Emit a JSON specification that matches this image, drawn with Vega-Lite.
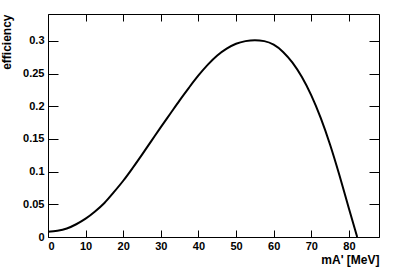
{
  "$schema": "https://vega.github.io/schema/vega-lite/v6.json",
  "width": 331,
  "height": 223,
  "autosize": {"type": "none"},
  "padding": {"left": 48, "top": 14, "right": 20, "bottom": 33},
  "background": "white",
  "config": {
    "font": "Liberation Sans",
    "view": {"stroke": "black", "strokeWidth": 1}
  },
  "data": {"values": [
    {"m": 0, "eff": 0.008},
    {"m": 2.5, "eff": 0.0095},
    {"m": 5, "eff": 0.013},
    {"m": 7.5, "eff": 0.0195},
    {"m": 10, "eff": 0.028},
    {"m": 12.5, "eff": 0.039},
    {"m": 15, "eff": 0.052},
    {"m": 17.5, "eff": 0.0685},
    {"m": 20, "eff": 0.086},
    {"m": 22.5, "eff": 0.1055},
    {"m": 25, "eff": 0.126},
    {"m": 27.5, "eff": 0.147},
    {"m": 30, "eff": 0.168},
    {"m": 32.5, "eff": 0.1885},
    {"m": 35, "eff": 0.209},
    {"m": 37.5, "eff": 0.2285},
    {"m": 40, "eff": 0.247},
    {"m": 42.5, "eff": 0.2635},
    {"m": 45, "eff": 0.2775},
    {"m": 47.5, "eff": 0.288},
    {"m": 50, "eff": 0.2955},
    {"m": 52.5, "eff": 0.2995},
    {"m": 55, "eff": 0.301},
    {"m": 57.5, "eff": 0.2995},
    {"m": 60, "eff": 0.294},
    {"m": 62.5, "eff": 0.283},
    {"m": 65, "eff": 0.2665},
    {"m": 67.5, "eff": 0.2445},
    {"m": 70, "eff": 0.2165},
    {"m": 72.5, "eff": 0.182},
    {"m": 75, "eff": 0.141},
    {"m": 77.5, "eff": 0.094},
    {"m": 80, "eff": 0.0435},
    {"m": 82.2, "eff": 0.0}
  ]},
  "resolve": {"axis": {"x": "independent", "y": "independent"}},
  "layer": [
    {
      "mark": {"type": "line", "color": "black", "strokeWidth": 2, "interpolate": "monotone"},
      "encoding": {
        "x": {"field": "m", "type": "quantitative",
          "scale": {"domain": [0, 88], "nice": false, "zero": false},
          "axis": {"orient": "bottom", "values": [0,10,20,30,40,50,60,70,80], "tickSize": -7, "tickColor": "black", "labelPadding": 10, "grid": false, "domain": false,
            "labelFontWeight": "bold", "labelFontSize": 11, "labelColor": "black",
            "title": "mA' [MeV]", "titleAnchor": "end", "titleFontWeight": "bold", "titleFontSize": 12, "titleColor": "black", "titlePadding": 3}},
        "y": {"field": "eff", "type": "quantitative",
          "scale": {"domain": [0, 0.341], "nice": false, "zero": false},
          "axis": {"orient": "left", "values": [0,0.05,0.1,0.15,0.2,0.25,0.3], "format": "~g", "tickSize": -10, "tickColor": "black", "labelPadding": 14, "grid": false, "domain": false,
            "labelFontWeight": "bold", "labelFontSize": 11, "labelColor": "black",
            "title": "efficiency", "titleAnchor": "end", "titleFontWeight": "bold", "titleFontSize": 12, "titleColor": "black", "titlePadding": 9}}
      }
    },
    {
      "mark": {"type": "line", "opacity": 0},
      "encoding": {
        "x": {"field": "m", "type": "quantitative",
          "axis": {"orient": "top", "values": [0,10,20,30,40,50,60,70,80], "tickSize": -7, "tickColor": "black", "labels": false, "title": null, "grid": false, "domain": false}},
        "y": {"field": "eff", "type": "quantitative",
          "axis": {"orient": "right", "values": [0,0.05,0.1,0.15,0.2,0.25,0.3], "tickSize": -10, "tickColor": "black", "labels": false, "title": null, "grid": false, "domain": false}}
      }
    }
  ]
}
